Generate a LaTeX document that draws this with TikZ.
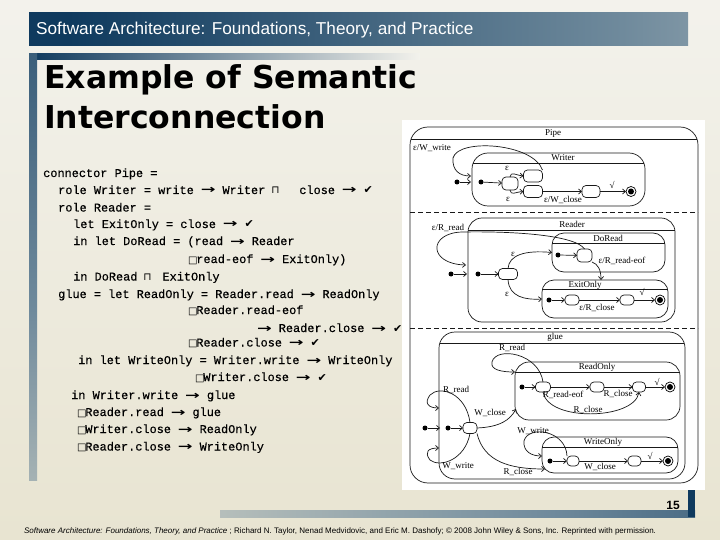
\documentclass[tikz,border=0pt]{standalone}
\usepackage{fontspec}
\usepackage{graphicx}
\setmainfont{Liberation Serif}
\newfontfamily\hdrfont{Liberation Sans}
\newfontfamily\titlefont{DejaVu Sans}
\newfontfamily\codefont[FakeBold=0.35]{Liberation Mono}
\newfontfamily\symfont{DejaVu Sans}
\newfontfamily\diafont{Liberation Serif}
\usetikzlibrary{arrows.meta}
\definecolor{navy}{HTML}{0F3A5E}
\definecolor{navymid}{HTML}{6F8A9C}
\definecolor{hdrlight}{HTML}{C8CDCD}
\definecolor{bgtop}{HTML}{F3F2EC}
\definecolor{bgbot}{HTML}{E8E4D1}
\pgfdeclarehorizontalshading{hdrshade}{100bp}{color(0bp)=(navy); color(28bp)=(navy); color(70bp)=(navymid); color(100bp)=(hdrlight)}
\pgfdeclarehorizontalshading{botshade}{100bp}{color(0bp)=(bgbot); color(60bp)=(navymid); color(100bp)=(navy)}
\pgfdeclareverticalshading{leftshade}{100bp}{color(0bp)=(bgbot); color(45bp)=(navymid); color(100bp)=(navy)}
\newcommand\Ar{\hbox to 28.6pt{\hss\scalebox{1.6}[1.05]{\symfont\bfseries\fontsize{11}{11}\selectfont →}\hss}}
\newcommand\Bx{\hbox to 7.15pt{\hss{\symfont\fontsize{10}{10}\selectfont □}\hss}}
\newcommand\Ck{{\symfont\fontsize{11}{11}\selectfont ✔}}
\newcommand\Mt[2]{\hbox to #1pt{\hskip #2pt{\symfont\fontsize{10.5}{10}\selectfont ⊓}\hss}}
\tikzset{
  comp/.style={draw=black!90, line width=0.7pt, inner sep=0pt, outer sep=0pt},
  st/.style={draw=black!90, line width=0.7pt, rounded corners=4pt, inner sep=0pt, outer sep=0pt},
  ini/.style={circle, fill=black, inner sep=0pt, outer sep=0pt, minimum size=5pt},
  fin/.style={circle, draw=black, line width=0.7pt, inner sep=0pt, outer sep=0pt, minimum size=10pt,
    path picture={\fill (path picture bounding box.center) circle (3pt);}},
  tr/.style={draw=black!90, line width=0.7pt, -{Straight Barb[length=3pt,width=5pt]}},
  lab/.style={font=\diafont\fontsize{9}{9}\selectfont, inner sep=0pt},
  hdr/.style={draw=black!90, line width=0.7pt},
  code/.style={font=\codefont\fontsize{11.9}{14}\selectfont, anchor=base west, inner sep=0pt}
}
\begin{document}
\begin{tikzpicture}[x=1pt,y=-1pt]
\useasboundingbox (0,0) rectangle (720,540);
\shade[top color=bgtop, bottom color=bgbot] (0,0) rectangle (720,540);
% header
\shade[shading=hdrshade] (29,13) rectangle (688,46);
\node[anchor=base west, inner sep=0pt, text=white, font=\hdrfont\fontsize{17.2}{18}\selectfont] (hdrtext) at (36,35) {Software Architecture: Foundations, Theory, and Practice};
% title bars
\shade[left color=navy, right color=bgtop] (29,54) rectangle (420,60);
\shade[shading=leftshade] (29,54) rectangle (37,480);
\node[anchor=base west, inner sep=0pt, font=\titlefont\bfseries\fontsize{31.5}{34}\selectfont] (t1) at (44,89) {Example of Semantic};
\node[anchor=base west, inner sep=0pt, font=\titlefont\bfseries\fontsize{31.5}{34}\selectfont] (t2) at (44,129) {Interconnection};
% code
\node[code] (c1) at (43,177) {connector Pipe =};
\node[code] (c2) at (58,194) {role Writer = write\Ar Writer\Mt{34}{6}close\Ar\Ck};
\node[code] (c3) at (58,211.5) {role Reader =};
\node[code] (c4) at (73,228) {let ExitOnly = close\Ar\Ck};
\node[code] (c5) at (73,245) {in let DoRead = (read\Ar Reader};
\node[code] (c6) at (189,263) {\Bx read-eof\Ar ExitOnly)};
\node[code] (c7) at (73,280.5) {in DoRead\Mt{25}{6}ExitOnly};
\node[code] (c8) at (58,298) {glue = let ReadOnly = Reader.read\Ar ReadOnly};
\node[code] (c9) at (189,314) {\Bx Reader.read-eof};
\node[code] (c10) at (250,332) {\Ar Reader.close\Ar\Ck};
\node[code] (c11) at (189,346.5) {\Bx Reader.close\Ar\Ck};
\node[code] (c12) at (78,364) {in let WriteOnly = Writer.write\Ar WriteOnly};
\node[code] (c13) at (196,381) {\Bx Writer.close\Ar\Ck};
\node[code] (c14) at (71,399) {in Writer.write\Ar glue};
\node[code] (c15) at (78,416) {\Bx Reader.read\Ar glue};
\node[code] (c16) at (78,433) {\Bx Writer.close\Ar ReadOnly};
\node[code] (c17) at (78,450.5) {\Bx Reader.close\Ar WriteOnly};
% diagram frame
\fill[white] (402,120) rectangle (705,490);
\node[comp, rounded corners=18pt, minimum width=288, minimum height=356] (pipe) at (554,305) {};
\draw[hdr] (411,139) -- (697,139);
\node[lab] (pipel) at (553,133) {Pipe};
\draw[hdr, dash pattern=on 5pt off 3pt] (410,212) -- (698,212);
\draw[hdr, dash pattern=on 5pt off 3pt] (410,328) -- (698,328);
% Writer
\node[comp, rounded corners=16pt, minimum width=173, minimum height=53] (writer) at (558.5,179.5) {};
\draw[hdr] (473.2,163) -- (643.8,163);
\node[lab] (writerl) at (563,158) {Writer};
\node[ini] (wext) at (457,182) {};
\coordinate (wextend) at (471,182);
\draw[tr] (wext) -- (wextend);
\node[ini] (wini) at (481,182) {};
\node[st, minimum width=16, minimum height=13] (wA) at (510,183.5) {};
\node[st, minimum width=19, minimum height=12] (wB) at (533,176) {};
\node[st, minimum width=19, minimum height=12] (wC) at (533,191.5) {};
\node[st, minimum width=18, minimum height=12] (wD) at (591,191.5) {};
\node[fin] (wF) at (631,191.5) {};
\draw[tr] (wini) -- (wA);
\draw[tr] (wA.north) .. controls (511,171) and (515,175) .. (wB.west);
\draw[tr] (wA.south) .. controls (511,196) and (515,192) .. (wC.west);
\coordinate (wloopend) at (471,176);
\draw[tr] (wB.north east) .. controls (533,143) and (458,138) .. (453,158) .. controls (452,171) and (460,176) .. (wloopend);
\draw[tr] (wC) -- (wD);
\draw[tr] (wD) -- (wF);
\node[lab] (wl1) at (432,148) {ε/W\_write};
\node[lab] (wl2) at (507,168) {ε};
\node[lab] (wl3) at (508,199) {ε};
\node[lab] (wl4) at (563,200) {ε/W\_close};
\node[lab] (wl5) at (612,185) {√};
% Reader
\node[comp, rounded corners=14pt, minimum width=207, minimum height=104] (reader) at (571.5,270) {};
\draw[hdr] (468.1,230) -- (674.9,230);
\node[lab] (readerl) at (572,224) {Reader};
\node[comp, rounded corners=12pt, minimum width=113, minimum height=39] (doread) at (608.5,252.5) {};
\draw[hdr] (552.2,243) -- (664.8,243);
\node[lab] (doreadl) at (608,238) {DoRead};
\node[comp, rounded corners=12pt, minimum width=126, minimum height=38] (exitonly) at (605,299) {};
\draw[hdr] (542.4,289) -- (667.6,289);
\node[lab] (exitonlyl) at (585,285) {ExitOnly};
\node[ini] (rext) at (451,274) {};
\coordinate (rextend) at (467,274);
\draw[tr] (rext) -- (rextend);
\node[ini] (rini) at (478,274) {};
\node[st, minimum width=19, minimum height=11] (rE) at (508,274) {};
\draw[tr] (rini) -- (rE);
\node[ini] (dini) at (558,255) {};
\node[st, minimum width=15, minimum height=13] (rF) at (584.5,255.5) {};
\draw[tr] (dini) -- (rF);
\coordinate (rloopend) at (466,265);
\draw[tr] (rF.north) .. controls (576,236) and (520,231) .. (462,232) .. controls (428,233) and (428,264) .. (rloopend);
\draw[tr] (rE.north) .. controls (509,255) and (525,250) .. (doread.west);
\draw[tr] (rE.south) .. controls (509,297) and (525,300) .. (exitonly.west);
\coordinate (exin) at (601,280);
\draw[tr] (rF.south east) .. controls (598,264) and (601,270) .. (exin);
\node[ini] (eini) at (549,300) {};
\node[st, minimum width=14, minimum height=10] (rG) at (572,300) {};
\node[st, minimum width=14, minimum height=10] (rH) at (627,300) {};
\node[fin] (eF) at (660,300) {};
\draw[tr] (eini) -- (rG);
\draw[tr] (rG) -- (rH);
\draw[tr] (rH) -- (eF);
\node[lab] (rl1) at (448,228) {ε/R\_read};
\node[lab] (rl2) at (513,254) {ε};
\node[lab] (rl3) at (507,294) {ε};
\node[lab] (rl4) at (622,261) {ε/R\_read-eof};
\node[lab] (rl5) at (597,308) {ε/R\_close};
\node[lab] (rl6) at (642,292) {√};
% glue
\node[comp, rounded corners=16pt, minimum width=246, minimum height=147] (glue) at (562,405.5) {};
\draw[hdr] (439.8,343) -- (684.2,343);
\node[lab] (gluel) at (555,337) {glue};
\node[comp, rounded corners=14pt, minimum width=165, minimum height=58] (readonly) at (597.5,391) {};
\draw[hdr] (515.6,372) -- (679.4,372);
\node[lab] (readonlyl) at (597,367) {ReadOnly};
\node[comp, rounded corners=12pt, minimum width=136, minimum height=36] (writeonly) at (610,455) {};
\draw[hdr] (542.2,447) -- (677.8,447);
\node[lab] (writeonlyl) at (603,442) {WriteOnly};
\node[ini] (gext) at (425,428) {};
\coordinate (gextend) at (440,428);
\draw[tr] (gext) -- (gextend);
\node[ini] (gini) at (448,428) {};
\node[st, minimum width=14, minimum height=11] (gI) at (470,428) {};
\draw[tr] (gini) -- (gI);
\coordinate (glup) at (439,408);
\coordinate (gldn) at (439,448);
\draw[tr] (gI.north) .. controls (466,393) and (440,385) .. (430,395) .. controls (424,403) and (428,408) .. (glup);
\draw[tr] (gI.south) .. controls (465,460) and (440,468) .. (430,460) .. controls (424,452) and (428,448) .. (gldn);
\coordinate (roin) at (516,409);
\draw[tr] (gI.east) .. controls (500,427) and (510,420) .. (roin);
\coordinate (woin) at (545,469);
\draw[tr] (gI.south east) .. controls (484,462) and (510,469) .. (woin);
\node[ini] (roini) at (522,387) {};
\node[st, minimum width=15, minimum height=10] (gJ) at (543,387) {};
\node[st, minimum width=14, minimum height=10] (gK) at (597,387) {};
\node[st, minimum width=13, minimum height=10] (gL) at (639,387) {};
\node[fin] (roF) at (670,387) {};
\draw[tr] (roini) -- (gJ);
\draw[tr] (gJ) -- (gK);
\draw[tr] (gK) -- (gL);
\draw[tr] (gL) -- (roF);
\draw[tr] (gJ.south) .. controls (548,422) and (634,420) .. (gL.south);
\coordinate (roin2) at (515,372);
\draw[tr] (gJ.north) .. controls (539,353) and (496,346) .. (492,362) .. controls (490,370) and (502,372) .. (roin2);
\node[ini] (woini) at (550,461) {};
\node[st, minimum width=12, minimum height=10] (gM) at (573,461) {};
\node[st, minimum width=13, minimum height=10] (gN) at (634.5,461) {};
\node[fin] (woF) at (668,461) {};
\draw[tr] (woini) -- (gM);
\draw[tr] (gM) -- (gN);
\draw[tr] (gN) -- (woF);
\coordinate (woin2) at (542,456);
\draw[tr] (gM.north west) .. controls (566,430) and (528,425) .. (524,441) .. controls (523,452) and (532,456) .. (woin2);
\node[lab] (gl1) at (456,390) {R\_read};
\node[lab] (gl2) at (490,413) {W\_close};
\node[lab] (gl3) at (458,466) {W\_write};
\node[lab] (gl4) at (518,472) {R\_close};
\node[lab] (gl5) at (512,348) {R\_read};
\node[lab] (gl6) at (563,395) {R\_read-eof};
\node[lab] (gl7) at (618,394) {R\_close};
\node[lab] (gl8) at (657,382) {√};
\node[lab] (gl9) at (588,410) {R\_close};
\node[lab] (gl10) at (533,431) {W\_write};
\node[lab] (gl11) at (600,467) {W\_close};
\node[lab] (gl12) at (650,456) {√};
% footer decorations
\shade[shading=botshade] (220,510) rectangle (695,517);
\fill[navy] (688,490) rectangle (695,517);
\node[inner sep=0pt, font=\hdrfont\bfseries\fontsize{12}{12}\selectfont] (pnum) at (673,505) {15};
\node[inner sep=0pt, font=\hdrfont\fontsize{8}{8}\selectfont] (foot) at (340,531) {{\itshape Software Architecture: Foundations, Theory, and Practice} ; Richard N. Taylor, Nenad Medvidovic, and Eric M. Dashofy; © 2008 John Wiley \& Sons, Inc. Reprinted with permission.};
\end{tikzpicture}
\end{document}
